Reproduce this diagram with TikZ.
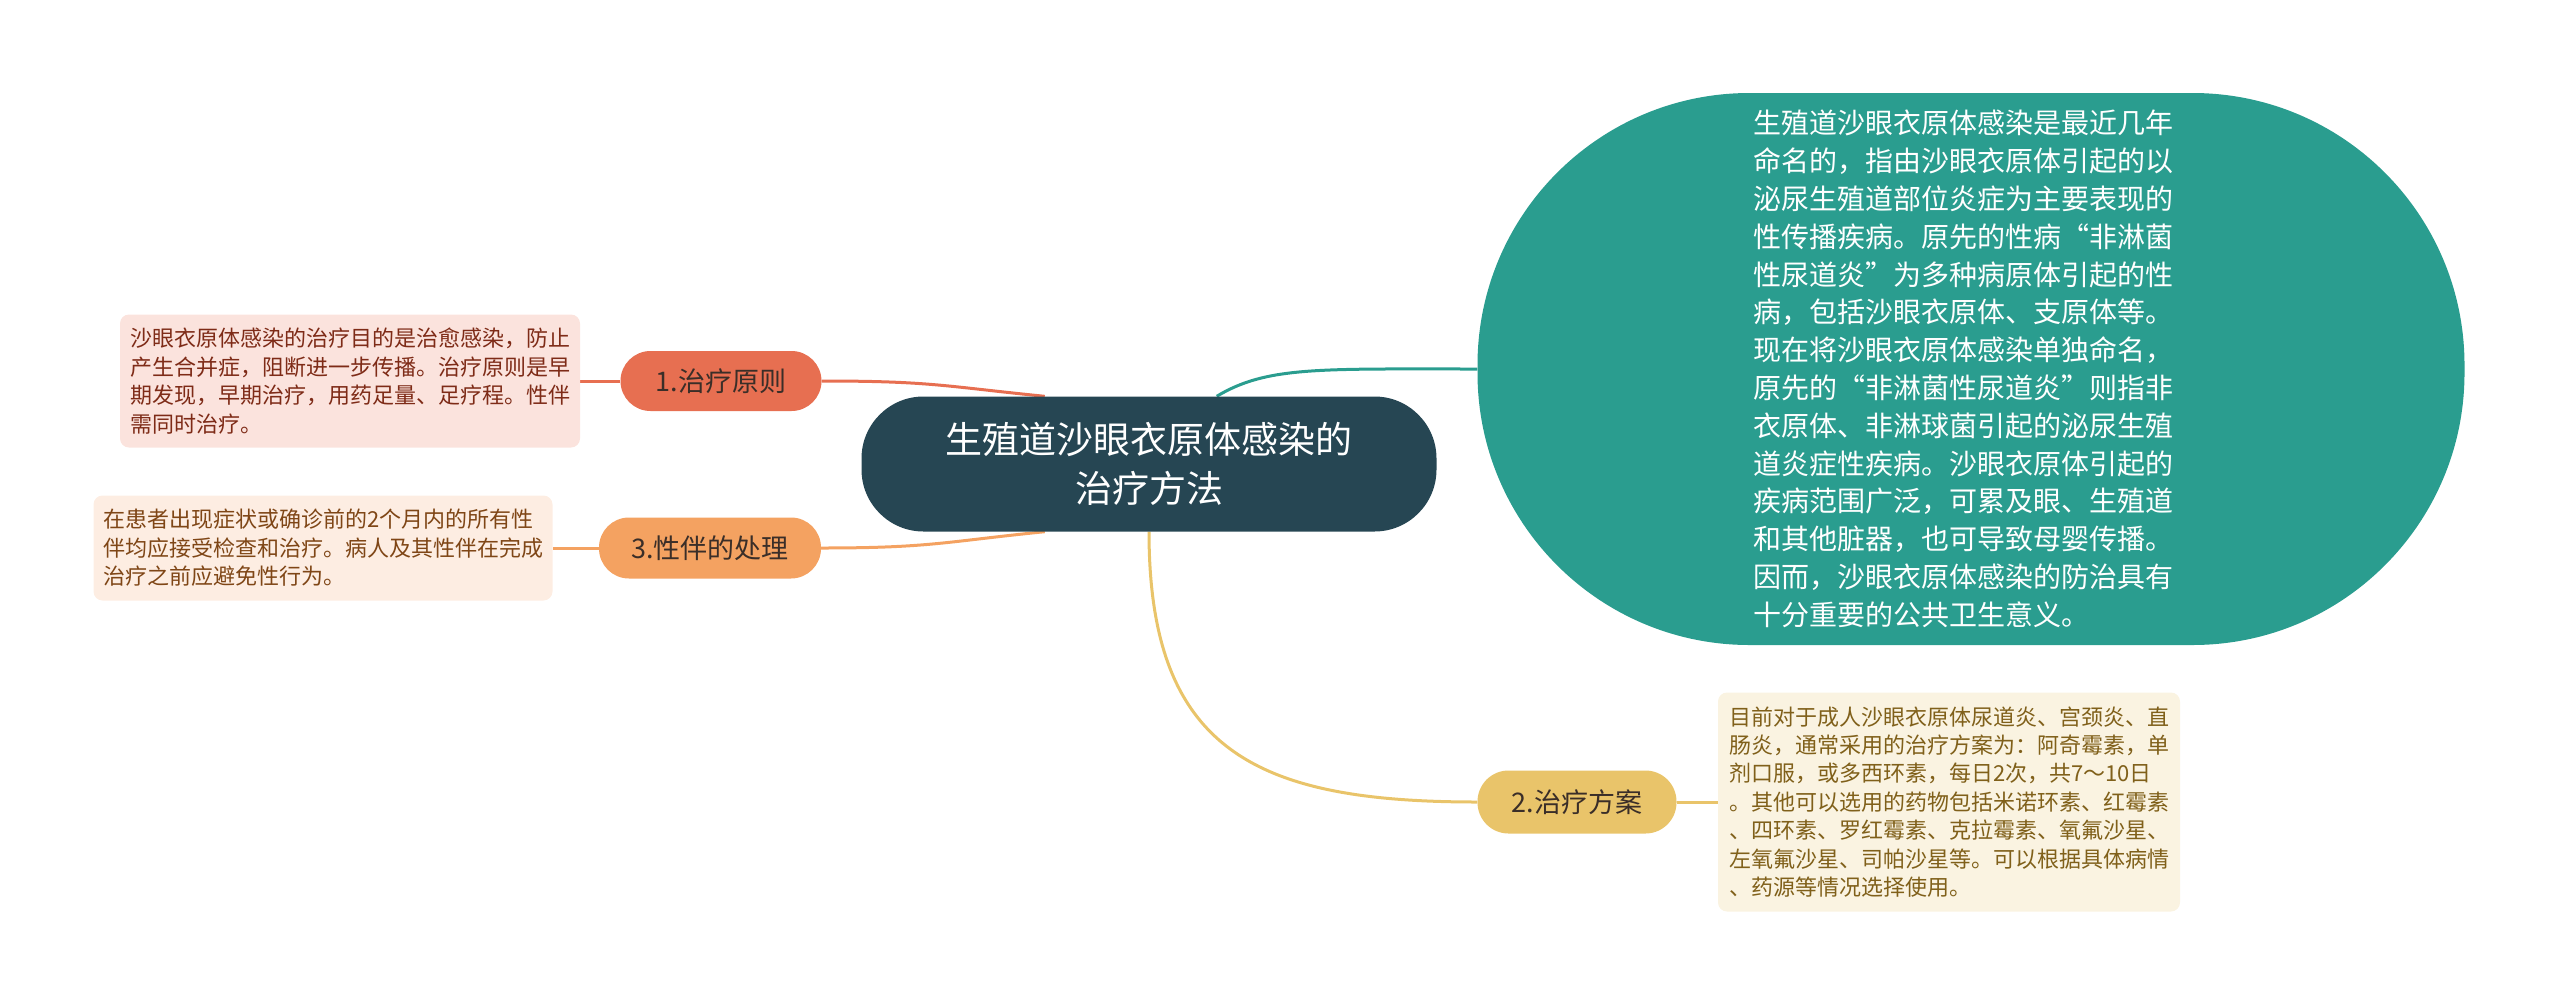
\documentclass[tikz,border=0pt]{standalone}
\usepackage{fontspec}
\setmainfont{Noto Sans CJK SC}
\usetikzlibrary{backgrounds}
\definecolor{cDark}{HTML}{264653}
\definecolor{cTeal}{HTML}{2A9D8F}
\definecolor{cYel}{HTML}{E9C46A}
\definecolor{cOra}{HTML}{F4A261}
\definecolor{cRed}{HTML}{E76F51}
\definecolor{fRed}{HTML}{FBE3DD}
\definecolor{fOra}{HTML}{FDEDE2}
\definecolor{fYel}{HTML}{FAF3E1}
\definecolor{tRed}{HTML}{7E2B17}
\definecolor{tOra}{HTML}{7F4616}
\definecolor{tYel}{HTML}{80601A}
\definecolor{tNode}{HTML}{3A2E28}
\tikzset{
  pill/.style={rectangle, inner sep=0pt, align=center, text=tNode,
    font=\fontsize{27}{32}\selectfont},
  notebox/.style={rectangle, rounded corners=9pt, inner sep=0pt,
    minimum width=460pt, text width=440pt, align=left,
    font=\fontsize{22}{28.4}\selectfont},
  link/.style={line width=3pt},
}
\begin{document}
\begin{tikzpicture}[x=1pt,y=-1pt]
\useasboundingbox (0,0) rectangle (2560,1005);
% central topic
\node[rectangle, rounded corners=62pt, fill=cDark, text=white, inner sep=0pt,
  minimum width=575pt, minimum height=135pt, align=center,
  font=\fontsize{37}{49}\selectfont] (center) at (1149,464)
  {生殖道沙眼衣原体感染的\\治疗方法};
% teal intro
\node[rectangle, rounded corners=272pt, fill=cTeal, text=white, inner sep=0pt,
  minimum width=987pt, minimum height=552pt, text width=436pt, align=left,
  font=\fontsize{28}{37.8}\selectfont] (intro) at (1971,369)
  {生殖道沙眼衣原体感染是最近几年\\
命名的，指由沙眼衣原体引起的以\\
泌尿生殖道部位炎症为主要表现的\\
性传播疾病。原先的性病“非淋菌\\
性尿道炎”为多种病原体引起的性\\
病，包括沙眼衣原体、支原体等。\\
现在将沙眼衣原体感染单独命名，\\
原先的“非淋菌性尿道炎”则指非\\
衣原体、非淋球菌引起的泌尿生殖\\
道炎症性疾病。沙眼衣原体引起的\\
疾病范围广泛，可累及眼、生殖道\\
和其他脏器，也可导致母婴传播。\\
因而，沙眼衣原体感染的防治具有\\
十分重要的公共卫生意义。};
% branch nodes
\node[pill, fill=cRed, rounded corners=30pt, minimum width=201pt, minimum height=60pt]
  (n1) at (721,381) {1.治疗原则};
\node[pill, fill=cOra, rounded corners=30pt, minimum width=222pt, minimum height=61pt]
  (n3) at (710,548) {3.性伴的处理};
\node[pill, fill=cYel, rounded corners=31pt, minimum width=199pt, minimum height=63pt]
  (n2) at (1577,802) {2.治疗方案};
% note boxes
\node[notebox, fill=fRed, text=tRed, minimum height=133pt] (b1) at (350,381)
  {沙眼衣原体感染的治疗目的是治愈感染，防止\\
产生合并症，阻断进一步传播。治疗原则是早\\
期发现，早期治疗，用药足量、足疗程。性伴\\
需同时治疗。};
\node[notebox, fill=fOra, text=tOra, minimum width=459pt, minimum height=105pt] (b3) at (323,548)
  {在患者出现症状或确诊前的2个月内的所有性\\
伴均应接受检查和治疗。病人及其性伴在完成\\
治疗之前应避免性行为。};
\node[notebox, fill=fYel, text=tYel, minimum width=462pt, minimum height=219pt] (b2) at (1949,802)
  {目前对于成人沙眼衣原体尿道炎、宫颈炎、直\\
肠炎，通常采用的治疗方案为：阿奇霉素，单\\
剂口服，或多西环素，每日2次，共7～10日\\
。其他可以选用的药物包括米诺环素、红霉素\\
、四环素、罗红霉素、克拉霉素、氧氟沙星、\\
左氧氟沙星、司帕沙星等。可以根据具体病情\\
、药源等情况选择使用。};
% connectors
\begin{pgfonlayer}{background}
\draw[link, cRed] (n1.east) .. controls +(110,0) and +(-100,-10) .. (center.147);
\draw[link, cRed] (n1.west) -- (b1.east);
\draw[link, cOra] (n3.east) .. controls +(110,0) and +(-100,10) .. (center.213);
\draw[link, cOra] (n3.west) -- (b3.east);
\draw[link, cTeal] (center.45) .. controls +(50,-30) and +(-160,0) .. (intro.west);
\draw[link, cYel] (center.south) .. controls +(0,220) and +(-220,0) .. (n2.west);
\draw[link, cYel] (n2.east) -- (b2.west);
\end{pgfonlayer}
\end{tikzpicture}
\end{document}
